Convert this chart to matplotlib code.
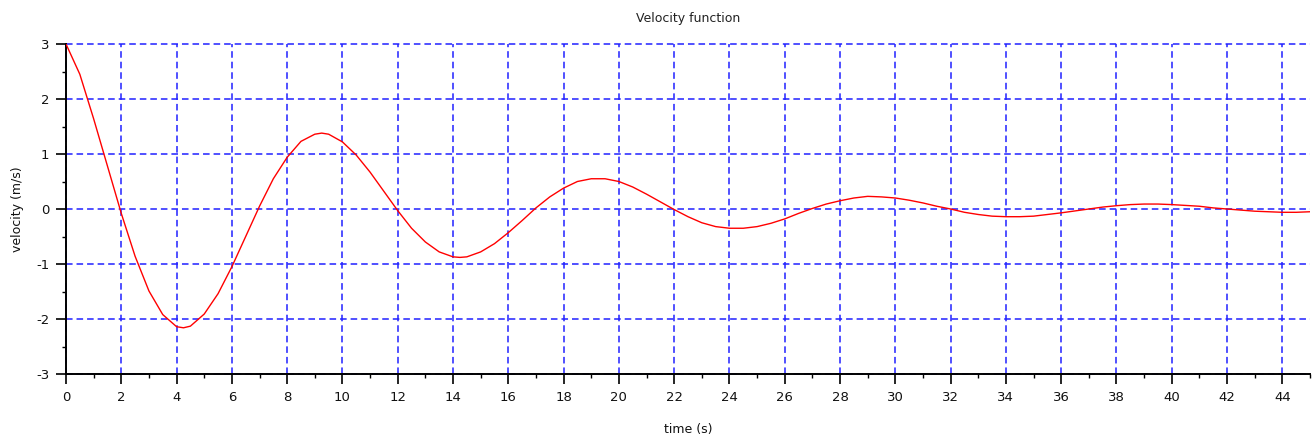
import numpy as np
import matplotlib
matplotlib.use("Agg")
import matplotlib.pyplot as plt
from matplotlib.ticker import MultipleLocator

plt.rcParams['axes.unicode_minus'] = False

# values
time_s = [0, 0.5, 1, 1.5, 2, 2.5, 3, 3.5, 4, 4.25, 4.5, 5, 5.5, 6, 6.5, 7, 7.5, 8, 8.5, 9,
          9.25, 9.5, 10, 10.5, 11, 11.5, 12, 12.5, 13, 13.5, 14, 14.25, 14.5, 15, 15.5, 16,
          16.5, 17, 17.5, 18, 18.5, 19, 19.5, 20, 20.5, 21, 21.5, 22, 22.5, 23, 23.5, 24,
          24.5, 25, 25.5, 26, 26.5, 27, 27.5, 28, 28.5, 29, 29.5, 30, 30.5, 31, 31.5, 32,
          32.5, 33, 33.5, 34, 34.5, 35, 35.5, 36, 36.5, 37, 37.5, 38, 38.5, 39, 39.5, 40,
          40.5, 41, 41.5, 42, 42.5, 43, 43.5, 44, 44.5, 45]
velocity = [3.00, 2.45, 1.64, 0.78, -0.08, -0.86, -1.49, -1.92, -2.14, -2.16, -2.13, -1.91,
            -1.54, -1.05, -0.50, 0.05, 0.55, 0.94, 1.23, 1.36, 1.38, 1.36, 1.22, 0.98, 0.67,
            0.32, -0.03, -0.35, -0.60, -0.78, -0.87, -0.88, -0.87, -0.78, -0.63, -0.43,
            -0.21, 0.02, 0.22, 0.38, 0.50, 0.55, 0.55, 0.50, 0.40, 0.27, 0.13, -0.01, -0.14,
            -0.25, -0.32, -0.35, -0.35, -0.32, -0.26, -0.18, -0.08, 0.01, 0.09, 0.15, 0.20,
            0.23, 0.22, 0.20, 0.16, 0.11, 0.05, 0.00, -0.06, -0.10, -0.13, -0.14, -0.14,
            -0.13, -0.10, -0.07, -0.035, 0.00, 0.035, 0.06, 0.08, 0.09, 0.09, 0.08, 0.065,
            0.05, 0.02, 0.00, -0.02, -0.04, -0.05, -0.06, -0.06, -0.05]

fig = plt.figure(figsize=(13.14, 4.42), dpi=100)
ax = fig.add_axes([66 / 1314, 68 / 442, 1244 / 1314, 330 / 442])

ax.plot(time_s, velocity, color='red', linewidth=1.0, zorder=3)

ax.set_xlim(0, 45)
ax.set_ylim(-3, 3)
ax.xaxis.set_major_locator(MultipleLocator(2))
ax.xaxis.set_minor_locator(MultipleLocator(1))
ax.yaxis.set_major_locator(MultipleLocator(1))
ax.yaxis.set_minor_locator(MultipleLocator(0.5))

# scilab-like blue dashed grid
ax.grid(True, which='major', color='#2020ff', linestyle=(0, (4.3, 2.6)), linewidth=1.1)
ax.set_axisbelow(True)
for gl in ax.get_ygridlines() + ax.get_xgridlines():
    gl.set_clip_on(False)

for s in ('top', 'right'):
    ax.spines[s].set_visible(False)
for s in ('left', 'bottom'):
    ax.spines[s].set_linewidth(1.4)
    ax.spines[s].set_color('black')

ax.tick_params(which='major', direction='out', length=7, width=1.2, labelsize=9.5,
               colors='black', labelcolor='#111111', pad=5)
ax.tick_params(which='minor', direction='out', length=3, width=1.0, colors='black')

ax.set_title('Velocity function', fontsize=9, color='#222222', pad=16)
ax.set_xlabel('time (s)', fontsize=9, color='#111111', labelpad=14)
ax.set_ylabel('velocity (m/s)', fontsize=9, color='#111111', labelpad=9)

fig.savefig('out.png', dpi=100)
